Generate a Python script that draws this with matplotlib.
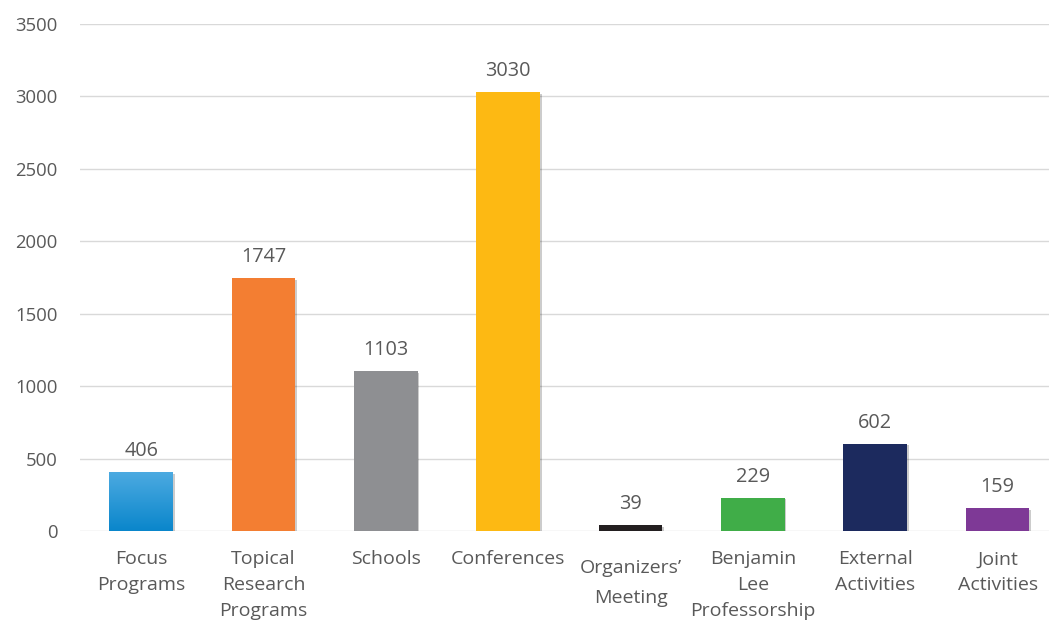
import matplotlib
matplotlib.use("Agg")
import matplotlib.pyplot as plt
import numpy as np
from matplotlib import patheffects as pe
from matplotlib.colors import LinearSegmentedColormap

categories = ["Focus\nPrograms", "Topical\nResearch\nPrograms", "Schools", "Conferences",
              "Organizers’\nMeeting", "Benjamin\nLee\nProfessorship", "External\nActivities",
              "Joint\nActivities"]
values = [406, 1747, 1103, 3030, 39, 229, 602, 159]
colors = ["#1a92d4", "#f37e32", "#8e8f92", "#fdb913", "#231f20", "#40ad48", "#1c2a5e", "#7e3996"]
yticks = [0, 500, 1000, 1500, 2000, 2500, 3000, 3500]

plt.rcParams['font.family'] = ['Open Sans', 'DejaVu Sans']
txt = "#595959"

fig = plt.figure(figsize=(10.49, 6.22), dpi=100)
ax = fig.add_axes([80/1049, 91/622, 969/1049, 507/622])
x = np.arange(len(values))
shadow = [pe.SimplePatchShadow(offset=(1.2, -1.2), alpha=0.2, shadow_rgbFace="#000000"), pe.Normal()]
bars = ax.bar(x, values, width=0.52, color=colors, zorder=3, path_effects=shadow)

# gradient on first bar
b = bars[0]
grad = np.linspace(0, 1, 100).reshape(-1, 1)
cmap = LinearSegmentedColormap.from_list("g", ["#0a86cb", "#4caae1"])
im = ax.imshow(grad, cmap=cmap, origin="lower", aspect="auto", zorder=4,
               extent=(b.get_x(), b.get_x() + b.get_width(), 0, b.get_height()))
im.set_clip_path(b)

for xi, v in zip(x, values):
    ax.annotate(str(v), (xi, v), xytext=(0, 8), textcoords="offset points",
                ha="center", va="bottom", fontsize=14.3, color=txt)

ax.set_xlim(-0.5, 7.42)
ax.set_ylim(0, 3500)
ax.set_yticks(yticks)
ax.set_yticklabels([str(t) for t in yticks], fontsize=13.3, color=txt)
ax.set_xticks(x)
ax.set_xticklabels(categories, fontsize=14, color=txt, linespacing=1.57, va="top")
ax.tick_params(axis="both", length=0)
ax.tick_params(axis="y", pad=16)
ax.tick_params(axis="x", pad=14)
lbl = ax.get_xticklabels()[4]
lbl.set_linespacing(1.9)
ax.xaxis.get_major_ticks()[4].set_pad(20)
ax.grid(axis="y", color="#d9d9d9", linewidth=1, zorder=0)
ax.set_axisbelow(True)
for s in ax.spines.values():
    s.set_visible(False)

fig.savefig("out.png", dpi=100)
